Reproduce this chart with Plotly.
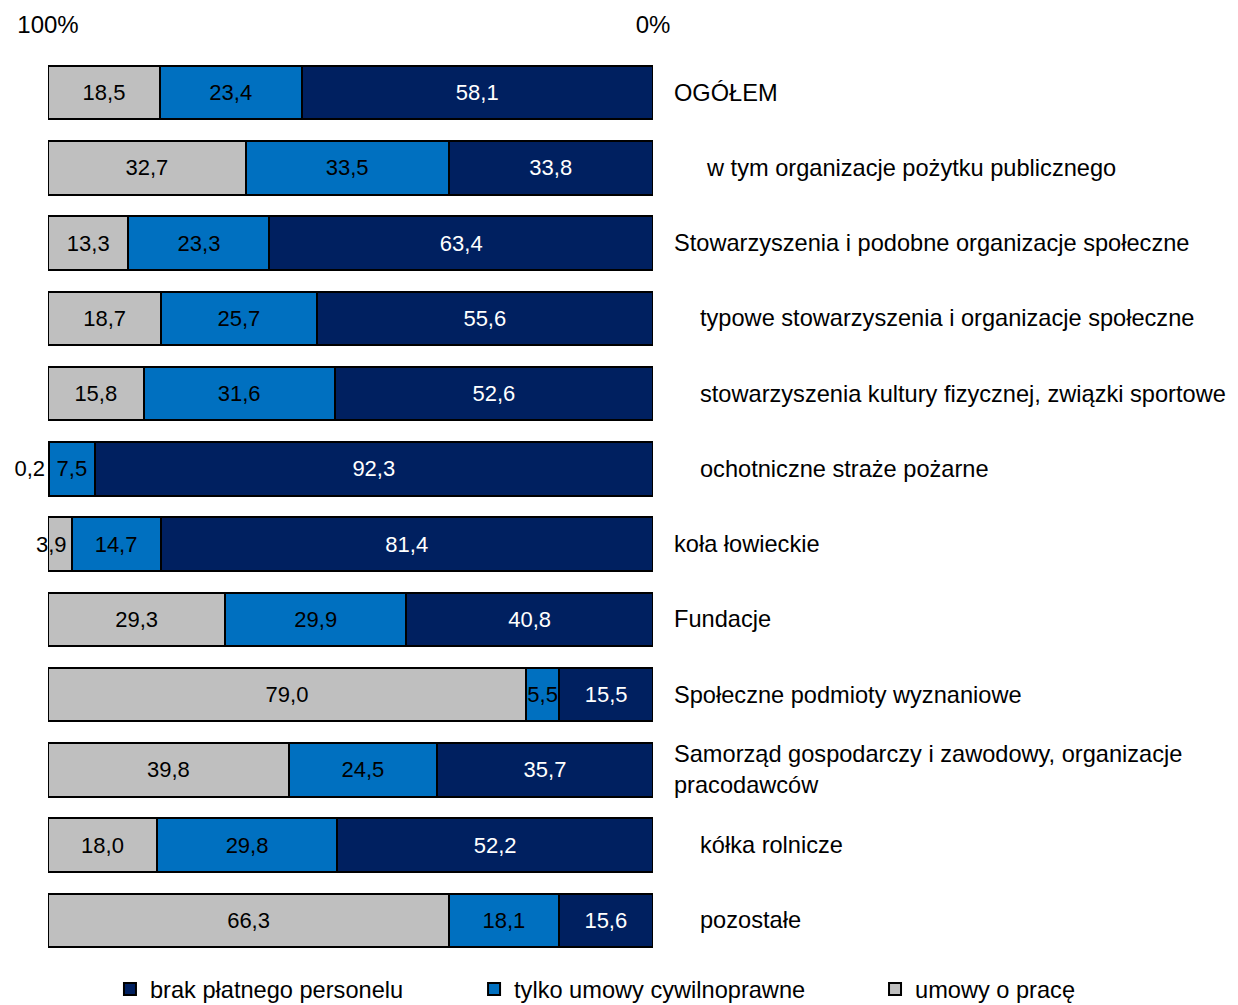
import plotly.graph_objects as go

categories = [
    "OGÓŁEM",
    "w tym organizacje pożytku publicznego",
    "Stowarzyszenia i podobne organizacje społeczne",
    "typowe stowarzyszenia i organizacje społeczne",
    "stowarzyszenia kultury fizycznej, związki sportowe",
    "ochotniczne straże pożarne",
    "koła łowieckie",
    "Fundacje",
    "Społeczne podmioty wyznaniowe",
    "Samorząd gospodarczy i zawodowy, organizacje<br>pracodawców",
    "kółka rolnicze",
    "pozostałe",
]
brak_platnego = [58.1, 33.8, 63.4, 55.6, 52.6, 92.3, 81.4, 40.8, 15.5, 35.7, 52.2, 15.6]
tylko_cywilnoprawne = [23.4, 33.5, 23.3, 25.7, 31.6, 7.5, 14.7, 29.9, 5.5, 24.5, 29.8, 18.1]
umowy_o_prace = [18.5, 32.7, 13.3, 18.7, 15.8, 0.2, 3.9, 29.3, 79.0, 39.8, 18.0, 66.3]
series_names = ["brak płatnego personelu", "tylko umowy cywilnoprawne", "umowy o pracę"]
tick_values = [0, 100]
tick_labels = ["0%", "100%"]

# layout-only settings
label_indent = [19, 51, 19, 45, 45, 45, 19, 19, 19, 19, 45, 45]
colors = ["#002060", "#0070C0", "#BFBFBF"]
text_colors = ["white", "black", "black"]
FONT = "Liberation Sans, Arial, sans-serif"


def fmt(v):
    return f"{v:.1f}".replace(".", ",")


fig = go.Figure()
all_series = [brak_platnego, tylko_cywilnoprawne, umowy_o_prace]
legends = ["legend", "legend2", "legend3"]
for i, (vals, name) in enumerate(zip(all_series, series_names)):
    positions = ["inside"] * len(vals)
    if i == 2:
        positions = ["outside" if v < 1 else ("none" if v < 5 else "inside") for v in vals]
    fig.add_trace(go.Bar(
        y=categories,
        x=vals,
        name=name,
        orientation="h",
        width=0.71,
        marker=dict(color=colors[i], line=dict(color="#000000", width=2)),
        text=[fmt(v) for v in vals],
        textposition=positions,
        insidetextanchor="middle",
        textangle=0,
        constraintext="none",
        textfont=dict(family=FONT, size=22, color=text_colors[i]),
        outsidetextfont=dict(family=FONT, size=22, color="black"),
        cliponaxis=False,
        legend=legends[i],
        hoverinfo="skip",
    ))

# label for the narrow grey segment, centred on that segment (from the data)
for cat, a, b, c in zip(categories, brak_platnego, tylko_cywilnoprawne, umowy_o_prace):
    if 1 <= c < 5:
        fig.add_annotation(
            x=a + b + c / 2, xref="x", y=cat, yref="y", text=fmt(c),
            showarrow=False, xanchor="center", yanchor="middle", xshift=-8,
            font=dict(family=FONT, size=22, color="black"),
        )

for cat, ind in zip(categories, label_indent):
    fig.add_annotation(
        x=1, xref="paper", y=cat, yref="y",
        text=cat, showarrow=False, xanchor="left", yanchor="middle",
        align="left", xshift=ind,
        font=dict(family=FONT, size=23.6, color="black"),
    )

leg_common = dict(orientation="h", yanchor="middle", y=0.016, xanchor="left",
                  xref="container", yref="container",
                  font=dict(family=FONT, size=23.6, color="black"),
                  bgcolor="rgba(0,0,0,0)", itemclick=False, itemdoubleclick=False)
fig.update_layout(
    barmode="stack",
    width=1230, height=997,
    margin=dict(l=40, r=585, t=47, b=47, autoexpand=False),
    paper_bgcolor="white", plot_bgcolor="white",
    font=dict(family=FONT, size=24, color="black"),
    xaxis=dict(range=[100, 0], side="top", tickvals=tick_values, ticktext=tick_labels,
               showgrid=True, gridcolor="#D9D9D9", gridwidth=1.5, zeroline=False,
               showline=False, ticks="", ticklabelstandoff=16, automargin=False,
               tickfont=dict(family=FONT, size=24, color="black")),
    yaxis=dict(autorange="reversed", showticklabels=False, showgrid=False, zeroline=False,
               showline=False, ticks="", automargin=False),
    legend=dict(**leg_common, x=0.0829),
    legend2=dict(**leg_common, x=0.3789),
    legend3=dict(**leg_common, x=0.7049),
    showlegend=True,
)
fig.write_html("out.html")
